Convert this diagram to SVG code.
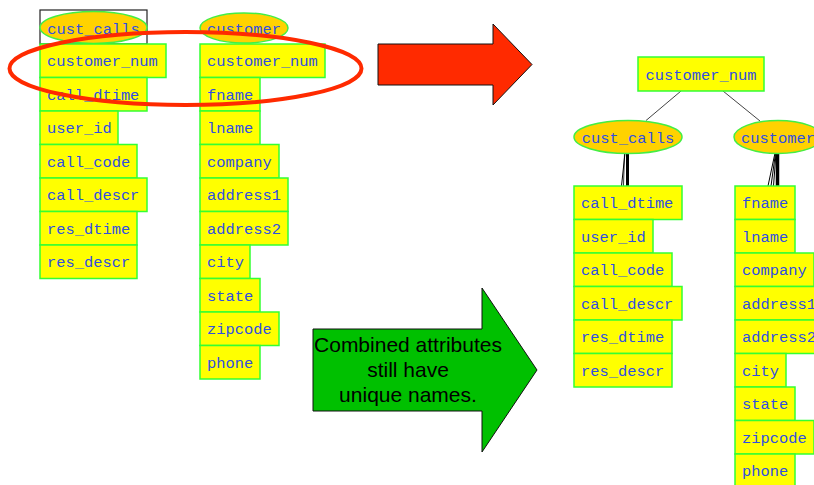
<svg xmlns="http://www.w3.org/2000/svg" width="814" height="485" viewBox="0 0 814 485">
<style>
.row{fill:#FFFF00;stroke:#33FF33;stroke-width:1.5}
.ell{fill:#FFD200;stroke:#44EE44;stroke-width:1.5}
.t{font-family:"Liberation Mono","DejaVu Sans Mono",monospace;font-size:15.4px;fill:#2F4FE0}
.c{text-anchor:middle}
.big{font-family:"Liberation Sans",Arial,sans-serif;font-size:21px;fill:#000;text-anchor:middle}
.edge{stroke:#444;stroke-width:1;fill:none}
</style>
<rect width="814" height="485" fill="#fff"/>

<g id="left-cust_calls">
<rect x="40" y="10" width="107" height="34" fill="none" stroke="#222" stroke-width="1.2"/>
<ellipse class="ell" cx="93.5" cy="27.5" rx="53.5" ry="16"/>
<text class="t c" x="93.5" y="33.5">cust_calls</text>
<rect class="row" x="40" y="44" width="126" height="33.5"/><text class="t" x="47" y="66">customer_num</text>
<rect class="row" x="40" y="77.5" width="107" height="33.5"/><text class="t" x="47" y="99.5">call_dtime</text>
<rect class="row" x="40" y="111" width="78" height="33.5"/><text class="t" x="47" y="133">user_id</text>
<rect class="row" x="40" y="144.5" width="97" height="33.5"/><text class="t" x="47" y="166.5">call_code</text>
<rect class="row" x="40" y="178" width="107" height="33.5"/><text class="t" x="47" y="200">call_descr</text>
<rect class="row" x="40" y="211.5" width="97" height="33.5"/><text class="t" x="47" y="233.5">res_dtime</text>
<rect class="row" x="40" y="245" width="97" height="33.5"/><text class="t" x="47" y="267">res_descr</text>
</g>

<g id="left-customer">
<ellipse class="ell" cx="244" cy="28" rx="44" ry="15"/>
<text class="t c" x="244" y="33.5">customer</text>
<rect class="row" x="200" y="44" width="125" height="33.5"/><text class="t" x="207" y="66">customer_num</text>
<rect class="row" x="200" y="77.5" width="60" height="33.5"/><text class="t" x="207" y="99.5">fname</text>
<rect class="row" x="200" y="111" width="60" height="33.5"/><text class="t" x="207" y="133">lname</text>
<rect class="row" x="200" y="144.5" width="79" height="33.5"/><text class="t" x="207" y="166.5">company</text>
<rect class="row" x="200" y="178" width="88" height="33.5"/><text class="t" x="207" y="200">address1</text>
<rect class="row" x="200" y="211.5" width="88" height="33.5"/><text class="t" x="207" y="233.5">address2</text>
<rect class="row" x="200" y="245" width="50" height="33.5"/><text class="t" x="207" y="267">city</text>
<rect class="row" x="200" y="278.5" width="60" height="33.5"/><text class="t" x="207" y="300.5">state</text>
<rect class="row" x="200" y="312" width="79" height="33.5"/><text class="t" x="207" y="334">zipcode</text>
<rect class="row" x="200" y="345.5" width="60" height="33.5"/><text class="t" x="207" y="367.5">phone</text>
</g>

<g id="highlight">
<ellipse cx="185.5" cy="68.5" rx="176" ry="36.5" fill="none" stroke="#FF2A00" stroke-width="4"/>
</g>

<g id="red-arrow">
<polygon points="378,44 493,44 493,24 532,64.5 493,105 493,85 378,85" fill="#FF2A00" stroke="#111" stroke-width="1"/>
</g>

<g id="green-arrow">
<polygon points="313,329 482,329 482,288 537,370 482,452 482,411 313,411" fill="#00C000" stroke="#111" stroke-width="1"/>
<text class="big" x="408" y="352">Combined attributes</text>
<text class="big" x="408" y="377">still have</text>
<text class="big" x="408" y="402">unique names.</text>
</g>

<g id="connectors">
<line class="edge" x1="681" y1="91" x2="646" y2="120.5"/>
<line class="edge" x1="723" y1="91" x2="760" y2="121"/>
<line x1="627.5" y1="153" x2="627.5" y2="186" stroke="#000" stroke-width="3"/>
<line x1="625" y1="153" x2="621.5" y2="186" stroke="#000" stroke-width="1"/>
<line x1="624.5" y1="153" x2="623.5" y2="186" stroke="#000" stroke-width="0.8"/>
<line x1="777.5" y1="153" x2="777.5" y2="186" stroke="#000" stroke-width="3.5"/>
<line x1="775" y1="153" x2="768" y2="186" stroke="#000" stroke-width="1"/>
<line x1="775.5" y1="153" x2="771" y2="186" stroke="#000" stroke-width="1"/>
<line x1="776" y1="153" x2="773.5" y2="186" stroke="#000" stroke-width="1"/>
</g>

<g id="right-customer_num">
<rect class="row" x="638" y="57" width="126" height="34"/>
<text class="t c" x="701" y="80">customer_num</text>
</g>

<g id="right-cust_calls">
<ellipse class="ell" cx="628" cy="137" rx="54" ry="16.5"/>
<text class="t c" x="628" y="142.5">cust_calls</text>
<rect class="row" x="574" y="186" width="108" height="33.5"/><text class="t" x="581" y="208">call_dtime</text>
<rect class="row" x="574" y="219.5" width="79" height="33.5"/><text class="t" x="581" y="241.5">user_id</text>
<rect class="row" x="574" y="253" width="98" height="33.5"/><text class="t" x="581" y="275">call_code</text>
<rect class="row" x="574" y="286.5" width="108" height="33.5"/><text class="t" x="581" y="308.5">call_descr</text>
<rect class="row" x="574" y="320" width="98" height="33.5"/><text class="t" x="581" y="342">res_dtime</text>
<rect class="row" x="574" y="353.5" width="98" height="33.5"/><text class="t" x="581" y="375.5">res_descr</text>
</g>

<g id="right-customer">
<ellipse class="ell" cx="778" cy="137" rx="44" ry="16.5"/>
<text class="t c" x="778" y="142.5">customer</text>
<rect class="row" x="735" y="186" width="60" height="33.5"/><text class="t" x="742" y="208">fname</text>
<rect class="row" x="735" y="219.5" width="60" height="33.5"/><text class="t" x="742" y="241.5">lname</text>
<rect class="row" x="735" y="253" width="79" height="33.5"/><text class="t" x="742" y="275">company</text>
<rect class="row" x="735" y="286.5" width="88" height="33.5"/><text class="t" x="742" y="308.5">address1</text>
<rect class="row" x="735" y="320" width="88" height="33.5"/><text class="t" x="742" y="342">address2</text>
<rect class="row" x="735" y="353.5" width="51" height="33.5"/><text class="t" x="742" y="375.5">city</text>
<rect class="row" x="735" y="387" width="60" height="33.5"/><text class="t" x="742" y="409">state</text>
<rect class="row" x="735" y="420.5" width="79" height="33.5"/><text class="t" x="742" y="442.5">zipcode</text>
<rect class="row" x="735" y="454" width="60" height="33.5"/><text class="t" x="742" y="476">phone</text>
</g>
</svg>
